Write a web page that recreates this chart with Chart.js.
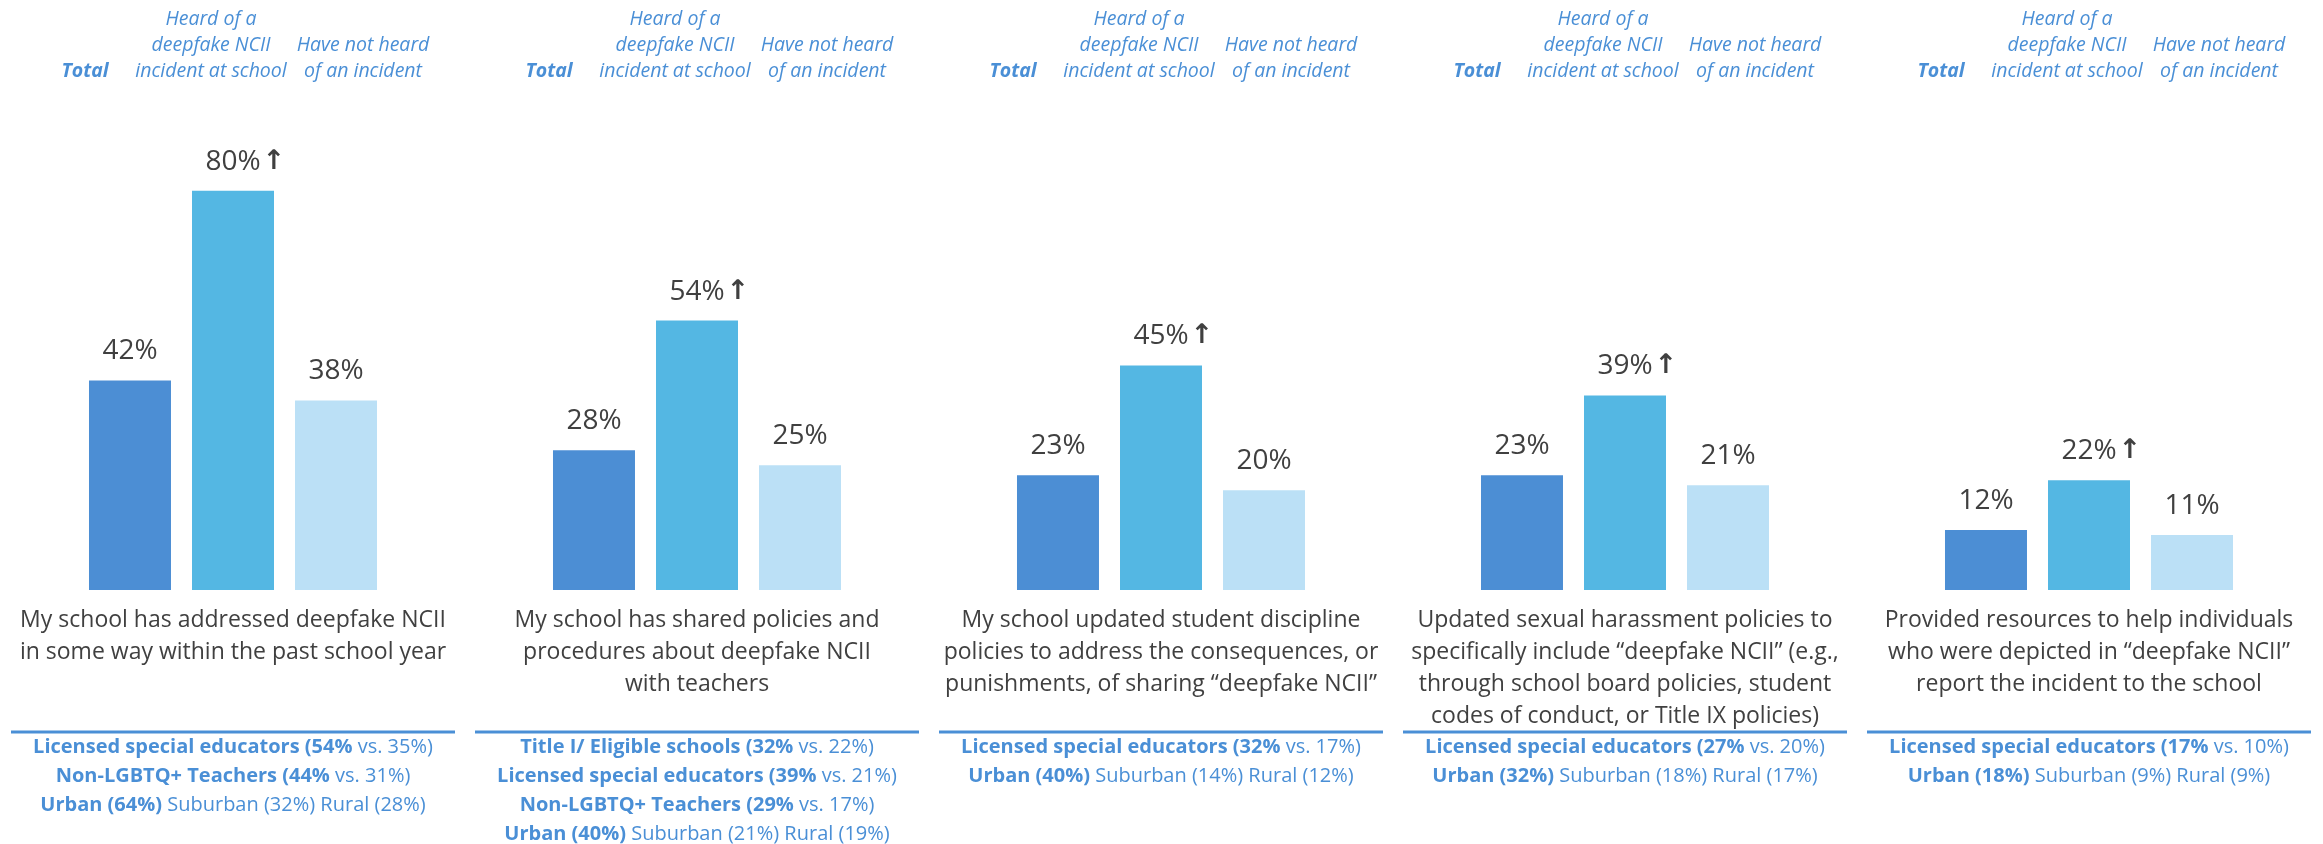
<!DOCTYPE html>
<html>
<head>
<meta charset="utf-8">
<script src="https://cdn.jsdelivr.net/npm/chart.js@4"></script>
<style>
  html, body { margin: 0; padding: 0; background: #ffffff; }
  canvas { display: block; }
</style>
</head>
<body>
<canvas id="chart" width="2323" height="844"></canvas>
<script>
// categories (one panel each), shown under the bars
const categories = [
    ['My school has addressed deepfake NCII', 'in some way within the past school year'],
    ['My school has shared policies and', 'procedures about deepfake NCII', 'with teachers'],
    ['My school updated student discipline', 'policies to address the consequences, or', 'punishments, of sharing \u201cdeepfake NCII\u201d'],
    ['Updated sexual harassment policies to', 'specifically include \u201cdeepfake NCII\u201d (e.g.,', 'through school board policies, student', 'codes of conduct, or Title IX policies)'],
    ['Provided resources to help individuals', 'who were depicted in \u201cdeepfake NCII\u201d', 'report the incident to the school']
];

// series
const seriesNames = ['Total', 'Heard of a deepfake NCII incident at school', 'Have not heard of an incident'];
const seriesHeaders = [['Total'], ['Heard of a', 'deepfake NCII', 'incident at school'], ['Have not heard', 'of an incident']];
const totalValues = [42, 28, 23, 23, 12];
const heardValues = [80, 54, 45, 39, 22];
const notHeardValues = [38, 25, 20, 21, 11];

// subgroup notes under each panel: [bold part, regular part]
const notes = [
    [['Licensed special educators (54%', ' vs. 35%)'], ['Non-LGBTQ+ Teachers (44%', ' vs. 31%)'], ['Urban (64%)', ' Suburban (32%) Rural (28%)']],
    [['Title I/ Eligible schools (32%', ' vs. 22%)'], ['Licensed special educators (39%', ' vs. 21%)'], ['Non-LGBTQ+ Teachers (29%', ' vs. 17%)'], ['Urban (40%)', ' Suburban (21%) Rural (19%)']],
    [['Licensed special educators (32%', ' vs. 17%)'], ['Urban (40%)', ' Suburban (14%) Rural (12%)']],
    [['Licensed special educators (27%', ' vs. 20%)'], ['Urban (32%)', ' Suburban (18%) Rural (17%)']],
    [['Licensed special educators (17%', ' vs. 10%)'], ['Urban (18%)', ' Suburban (9%) Rural (9%)']]
];

const colors = ['#4c8ed4', '#54b7e3', '#bbe0f6'];
const blue = '#4a8fd6';
const grey = '#404040';
const font = '"Open Sans", "DejaVu Sans", sans-serif';

// draws value labels, headers, category text and notes
const panelText = {
    id: 'panelText',
    afterDatasetsDraw(chart) {
        const ctx = chart.ctx;
        const xs = chart.scales.x;
        const area = chart.chartArea;
        ctx.save();

        // values on top of bars
        chart.data.datasets.forEach((ds, di) => {
            chart.getDatasetMeta(di).data.forEach((bar, i) => {
                const txt = ds.data[i] + '%';
                ctx.font = '28px ' + font;
                ctx.fillStyle = grey;
                ctx.textAlign = 'center';
                ctx.textBaseline = 'alphabetic';
                ctx.fillText(txt, bar.x, bar.y - 21);
                if (di === 1) { // significance arrow
                    const w = ctx.measureText(txt).width;
                    ctx.textAlign = 'left';
                    ctx.font = 'bold 27px "DejaVu Sans", sans-serif';
                    ctx.fillText('\u2191', bar.x + w / 2 + 2, bar.y - 22);
                }
            });
        });

        // series headers above every panel
        const headOffsets = [-45, -22, 27];
        ctx.fillStyle = blue;
        ctx.textAlign = 'center';
        chart.data.datasets.forEach((ds, di) => {
            chart.getDatasetMeta(di).data.forEach(bar => {
                const lines = seriesHeaders[di];
                ctx.font = (di === 0 ? 'italic bold ' : 'italic ') + '19.5px ' + font;
                lines.forEach((ln, k) => {
                    ctx.fillText(ln, bar.x + headOffsets[di], area.top - 14 - (lines.length - 1 - k) * 26);
                });
            });
        });

        categories.forEach((lines, i) => {
            const cx = xs.getPixelForValue(i);

            // category text
            ctx.font = '23px ' + font;
            ctx.fillStyle = grey;
            ctx.textAlign = 'center';
            lines.forEach((ln, k) => ctx.fillText(ln, cx, area.bottom + 37 + k * 32));

            // separator
            ctx.strokeStyle = blue;
            ctx.lineWidth = 3;
            ctx.beginPath();
            ctx.moveTo(cx - 222, area.bottom + 142);
            ctx.lineTo(cx + 222, area.bottom + 142);
            ctx.stroke();

            // subgroup notes
            ctx.fillStyle = blue;
            ctx.textAlign = 'left';
            notes[i].forEach((pair, k) => {
                const yy = area.bottom + 163 + k * 29;
                ctx.font = 'bold 20px ' + font;
                const w1 = ctx.measureText(pair[0]).width;
                ctx.font = '20px ' + font;
                const w2 = ctx.measureText(pair[1]).width;
                const x0 = cx - (w1 + w2) / 2;
                ctx.font = 'bold 20px ' + font;
                ctx.fillText(pair[0], x0, yy);
                ctx.font = '20px ' + font;
                ctx.fillText(pair[1], x0 + w1, yy);
            });
        });
        ctx.restore();
    }
};

new Chart(document.getElementById('chart'), {
    type: 'bar',
    data: {
        labels: categories,
        datasets: [
            { label: seriesNames[0], data: totalValues, backgroundColor: colors[0] },
            { label: seriesNames[1], data: heardValues, backgroundColor: colors[1] },
            { label: seriesNames[2], data: notHeardValues, backgroundColor: colors[2] }
        ]
    },
    options: {
        responsive: false,
        animation: false,
        layout: { padding: { top: 91, bottom: 254, left: 1, right: 2 } },
        datasets: { bar: { categoryPercentage: 0.666, barPercentage: 0.796 } },
        plugins: { legend: { display: false }, tooltip: { enabled: false } },
        scales: {
            x: { display: false },
            y: { display: false, min: 0, max: 100 }
        }
    },
    plugins: [panelText]
});
</script>
</body>
</html>
